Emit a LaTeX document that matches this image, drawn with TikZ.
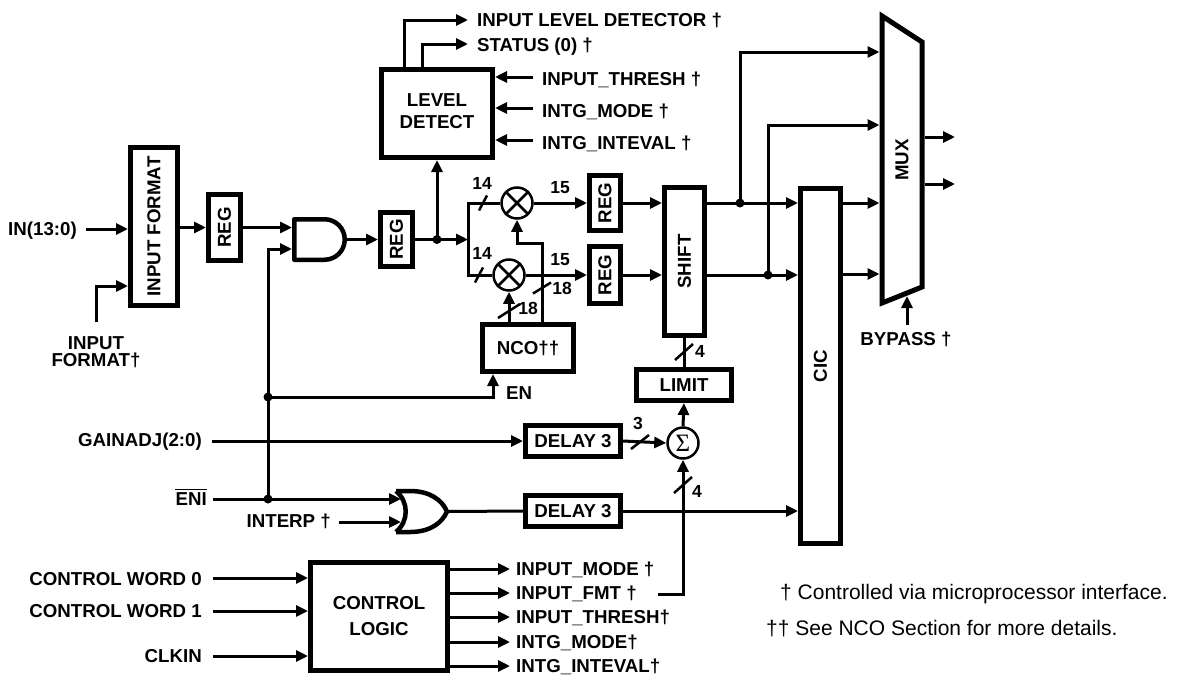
\documentclass[tikz,border=0pt]{standalone}
\usepackage{fontspec}
\setmainfont{Liberation Sans}
\newfontfamily\sigfont{Liberation Serif}
\usetikzlibrary{arrows.meta}
\begin{document}
\begin{tikzpicture}[x=1pt,y=-1pt,
  wire/.style={line width=3pt},
  arr/.style={line width=3pt,-{Triangle[length=12pt,width=11pt]}},
  blk/.style={draw,line width=5pt,inner sep=0pt},
  bf/.style={font=\fontsize{18.7}{22}\selectfont\bfseries},
  lw/.style={bf,inner sep=0pt,anchor=base west},
  le/.style={bf,inner sep=0pt,anchor=base east},
  lc/.style={bf,inner sep=0pt,anchor=base},
  rl/.style={bf,inner sep=0pt,rotate=90},
  num/.style={font=\fontsize{17.5}{18}\selectfont\bfseries,inner sep=0pt,anchor=base},
  sl/.style={line width=2.5pt},
  jdot/.style={circle,fill,inner sep=0pt,minimum size=9pt},
  mul/.style={circle,draw,line width=2.5pt,inner sep=0pt,minimum size=30pt},
  gate/.style={line width=4.5pt,line join=round},
  foot/.style={inner sep=0pt,anchor=base west,font=\fontsize{21}{24}\selectfont},
]
\useasboundingbox (0,0) rectangle (1177,675);

% ---------------- blocks ----------------
\node[blk,minimum width=47pt,minimum height=158pt] (ifmt) at (154,226.5) {};
\node[rl] (ifmtT) at (ifmt) {INPUT FORMAT};
\node[blk,minimum width=32pt,minimum height=66pt] (reg1) at (224.5,227.5) {};
\node[rl] (reg1T) at (reg1) {REG};
\node[blk,minimum width=32pt,minimum height=54pt] (reg2) at (396.5,239.5) {};
\node[rl] (reg2T) at (reg2) {REG};
\node[blk,minimum width=31pt,minimum height=55pt] (reg3) at (605,203) {};
\node[rl] (reg3T) at (reg3) {REG};
\node[blk,minimum width=31pt,minimum height=57pt] (reg4) at (605,275) {};
\node[rl] (reg4T) at (reg4) {REG};
\node[blk,minimum width=111pt,minimum height=88pt] (level) at (437,113.5) {};
\node[bf,align=center,inner sep=0pt] (levelT) at (437,111) {LEVEL\\DETECT};
\node[blk,bf,minimum width=91pt,minimum height=47pt] (nco) at (528,348) {NCO††};
\node[blk,minimum width=40pt,minimum height=148pt] (shift) at (684.5,261.5) {};
\node[rl] (shiftT) at (shift) {SHIFT};
\node[blk,bf,minimum width=95pt,minimum height=31pt] (limit) at (684,385) {LIMIT};
\node[blk,bf,minimum width=95pt,minimum height=31pt] (delay1) at (573,441) {DELAY 3};
\node[blk,bf,minimum width=95pt,minimum height=31pt] (delay2) at (573,511) {DELAY 3};
\node[blk,minimum width=40pt,minimum height=355pt] (cic) at (820.5,366) {};
\node[rl] (cicT) at (cic) {CIC};
\node[blk,align=center,minimum width=137pt,minimum height=108pt,font=\fontsize{18.7}{26}\selectfont\bfseries] (ctrl) at (379,616.5) {CONTROL\\LOGIC};

% multipliers and adder
\node[mul,minimum size=31pt] (m1) at (517,203) {};
\draw[line width=2.5pt,shorten <=1.5pt,shorten >=1.5pt] (m1.45) -- (m1.225) (m1.135) -- (m1.315);
\node[mul,minimum size=31pt] (m2) at (509,275) {};
\draw[line width=2.5pt,shorten <=1.5pt,shorten >=1.5pt] (m2.45) -- (m2.225) (m2.135) -- (m2.315);
\node[mul,minimum size=31pt] (sig) at (683,443) {};
\node[inner sep=0pt,font=\fontsize{25}{25}\sigfont] (sigT) at (sig) {Σ};

% AND gate
\coordinate (andA) at (292,227.5);
\coordinate (andB) at (292,249);
\coordinate (andO) at (347,239.5);
\draw[gate] (294.25,219.25) -- (324.5,219.25) .. controls (335.7,219.25) and (344.75,228.3) .. (344.75,239.5)
  .. controls (344.75,250.7) and (335.7,259.75) .. (324.5,259.75) -- (294.25,259.75) -- cycle;

% OR gate
\coordinate (orA) at (401,499);
\coordinate (orB) at (401,522);
\coordinate (orO) at (448,511.5);
\draw[gate] (396,491) .. controls (409,502) and (409,521) .. (396,532);
\draw[gate] (396,491) -- (410,491) .. controls (430,491) and (442,500) .. (447,511.5)
  .. controls (442,523) and (430,532) .. (410,532) -- (396,532);

% MUX
\draw[line width=5pt,line join=miter] (882,16) -- (922,42) -- (922,287) -- (882,303) -- cycle;
\node[rl] (muxT) at (902,160) {MUX};
\coordinate (mA) at (879.5,52);
\coordinate (mB) at (879.5,125);
\coordinate (mC) at (879.5,203);
\coordinate (mD) at (879.5,274);
\coordinate (mO1) at (924.5,137);
\coordinate (mO2) at (924.5,184);
\coordinate (mS) at (907,296);

% ---------------- input section ----------------
\coordinate (inS) at (86,229);
\node[le] (inL) at (77,235.5) {IN(13:0)};
\draw[arr] (inS) -- (inS -| ifmt.west);
\coordinate (fmtS) at (96,322);
\coordinate (fmtB) at (96,286);
\node[lc] (fmtL1) at (96,349) {INPUT};
\node[lc] (fmtL2) at (96,366.5) {FORMAT†};
\draw[arr] (fmtS) -- (fmtB) -- (fmtB -| ifmt.west);
\draw[arr] (ifmt.east |- reg1.west) -- (reg1.west);
\draw[arr] (reg1.east) -- (andA);

\coordinate (j1) at (268,397);
\coordinate (j2) at (268,499);
\draw[arr] (j2) |- (andB);
\draw[arr] (andO) -- (reg2.west);

% EN
\coordinate (enT) at (493,397);
\draw[arr] (j1) -- (enT) -- (enT |- nco.south);
\node[lw] (enL) at (506,399.5) {EN};

% ENI / INTERP / OR
\coordinate (eniS) at (213,499);
\node[le] (eniL) at (207,505.5) {ENI};
\draw[line width=1.6pt] ([yshift=3pt]eniL.north west) -- ([yshift=3pt]eniL.north east);
\draw[arr] (eniS) -- (orA);
\coordinate (intS) at (339,522);
\node[le] (intL) at (331,527.5) {INTERP †};
\draw[arr] (intS) -- (orB);
\draw[wire] (orO) -- (delay2.west);
\draw[arr] (delay2.east) -- (delay2.east -| cic.west);

% GAINADJ
\coordinate (gS) at (212,441);
\node[le] (gL) at (202,446.5) {GAINADJ(2:0)};
\draw[arr] (gS) -- (delay1.west);
\draw[arr] (delay1.east) -- (sig.west);
\draw[sl] (640,442) ++(-9,7) -- ++(18,-14);
\node[num] (n3) at (638,429) {3};
\draw[arr] (sig.north) -- (limit.south);
\draw[wire] (shift.south -| limit.north) -- (limit.north);
\draw[sl] (684,352) ++(-9,8) -- ++(18,-16);
\node[num] (n4a) at (700,357.5) {4};

% INPUT_FMT into adder
\coordinate (fmtO) at (658,594);
\draw[arr] (fmtO) -| (sig.south);
\draw[sl] (683,485) ++(-9,8) -- ++(18,-16);
\node[num] (n4b) at (697,497.5) {4};

% ---------------- datapath ----------------
\coordinate (j3) at (437,239.5);
\coordinate (spC) at (468,239.5);
\coordinate (spT) at (468,203);
\coordinate (spB) at (468,275);
\draw[wire] (reg2.east) -- (j3);
\draw[arr] (j3) -- (spC);
\draw[arr] (j3) -- (j3 |- level.south);
\draw[wire] (m1.west) -- (spT) -- (spB) -- (m2.west);
\draw[sl] (483,203) ++(-4,7.5) -- ++(8,-15);
\draw[sl] (479,275) ++(-4,7.5) -- ++(8,-15);
\node[num] (n14a) at (482,189) {14};
\node[num] (n14b) at (482,259) {14};
\draw[arr] (m1.east) -- (reg3.west);
\draw[arr] (m2.east) -- (reg4.west);
\node[num] (n15a) at (560,193) {15};
\node[num] (n15b) at (560,265) {15};

% NCO outputs
\draw[arr] (nco.north -| m2.south) -- (m2.south);
\draw[sl] (509,311) ++(-11,7) -- ++(22,-14);
\node[num] (n18a) at (528,314) {18};
\coordinate (ncoB) at (542,243);
\draw[arr] (nco.north -| ncoB) -- (ncoB) -| (m1.south);
\draw[sl] (542,288) ++(-9,5.5) -- ++(18,-11);
\node[num] (n18b) at (562,294) {18};

\draw[arr] (reg3.east) -- (reg3.east -| shift.west);
\draw[arr] (reg4.east) -- (reg4.east -| shift.west);

\coordinate (j4) at (740,203);
\coordinate (j5) at (768,275);
\draw[arr] (shift.east |- j4) -- (j4 -| cic.west);
\draw[arr] (shift.east |- j5) -- (j5 -| cic.west);
\draw[arr] (j4) |- (mA);
\draw[arr] (j5) |- (mB);
\draw[arr] (cic.east |- mC) -- (mC);
\draw[arr] (cic.east |- mD) -- (mD);
\coordinate (o1) at (955,137);
\coordinate (o2) at (955,184);
\draw[arr] (mO1) -- (o1);
\draw[arr] (mO2) -- (o2);
\coordinate (byS) at (907,325);
\draw[arr] (byS) -- (mS);
\node[lc] (byL) at (906,345.5) {BYPASS †};

% ---------------- level detect ----------------
\coordinate (ld1) at (468,20);
\coordinate (ld2) at (468,44);
\draw[arr] ([xshift=-33pt]level.north) |- (ld1);
\draw[arr] ([xshift=-15pt]level.north) |- (ld2);
\node[lw] (ld1L) at (477,26.5) {INPUT LEVEL DETECTOR †};
\node[lw] (ld2L) at (477,51.5) {STATUS (0) †};
\coordinate (li1) at (533,77);
\coordinate (li2) at (533,108);
\coordinate (li3) at (533,140);
\draw[arr] (li1) -- (li1 -| level.east);
\draw[arr] (li2) -- (li2 -| level.east);
\draw[arr] (li3) -- (li3 -| level.east);
\node[lw] (li1L) at (542,85.5) {INPUT\_THRESH †};
\node[lw] (li2L) at (542,117) {INTG\_MODE †};
\node[lw] (li3L) at (542,149) {INTG\_INTEVAL †};

% dots
\node[jdot] (d1) at (j1) {};
\node[jdot] (d2) at (j2) {};
\node[jdot] (d3) at (j3) {};
\node[jdot] (d4) at (j4) {};
\node[jdot] (d5) at (j5) {};

% ---------------- control logic ----------------
\coordinate (c0) at (213,578);
\coordinate (c1) at (213,611);
\coordinate (c2) at (213,656);
\draw[arr] (c0) -- (c0 -| ctrl.west);
\draw[arr] (c1) -- (c1 -| ctrl.west);
\draw[arr] (c2) -- (c2 -| ctrl.west);
\node[le] (c0L) at (202,585.5) {CONTROL WORD 0};
\node[le] (c1L) at (202,617) {CONTROL WORD 1};
\node[le] (c2L) at (202,662.5) {CLKIN};

\coordinate (co1) at (510,569);
\coordinate (co2) at (510,593);
\coordinate (co3) at (510,617);
\coordinate (co4) at (510,642);
\coordinate (co5) at (510,666);
\draw[arr] (ctrl.east |- co1) -- (co1);
\draw[arr] (ctrl.east |- co2) -- (co2);
\draw[arr] (ctrl.east |- co3) -- (co3);
\draw[arr] (ctrl.east |- co4) -- (co4);
\draw[arr] (ctrl.east |- co5) -- (co5);
\node[lw] (co1L) at (516,575.5) {INPUT\_MODE †};
\node[lw] (co2L) at (516,599.5) {INPUT\_FMT †};
\node[lw] (co3L) at (516,623.5) {INPUT\_THRESH†};
\node[lw] (co4L) at (516,648.5) {INTG\_MODE†};
\node[lw] (co5L) at (516,672.5) {INTG\_INTEVAL†};

% footnotes
\node[foot] (f1) at (780,599.5) {† Controlled via microprocessor interface.};
\node[foot] (f2) at (766,635.5) {†† See NCO Section for more details.};
\end{tikzpicture}
\end{document}
